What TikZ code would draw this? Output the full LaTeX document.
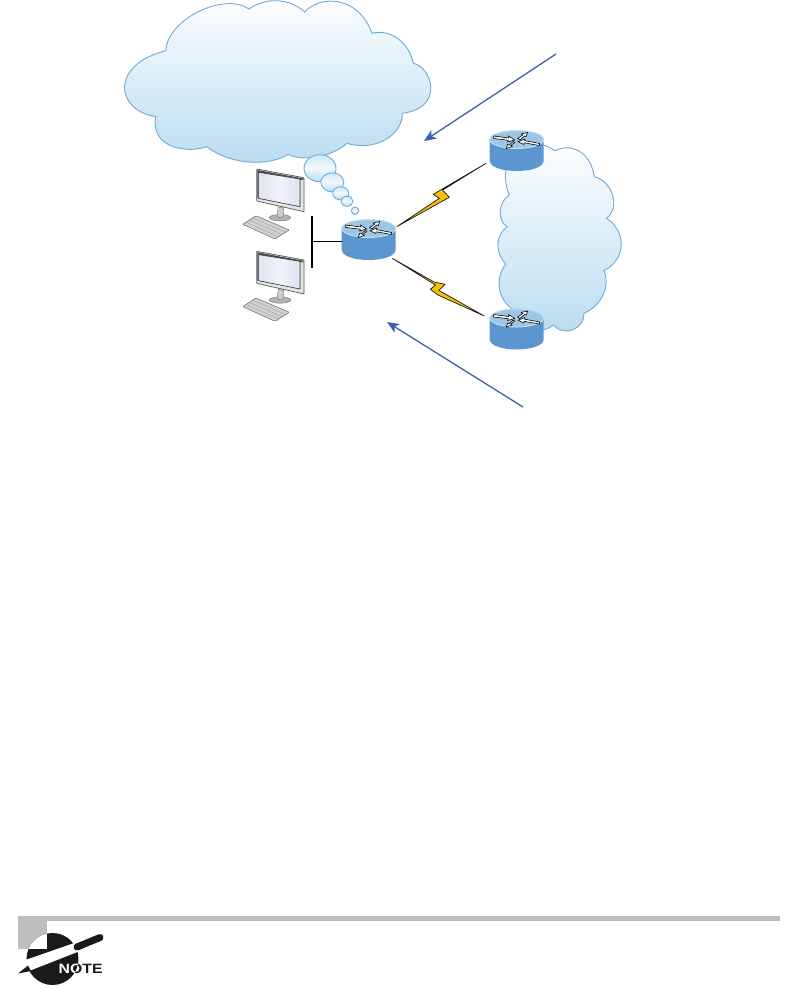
\documentclass[tikz,border=0pt]{standalone}
\usepackage{fontspec}
\setmainfont{Liberation Sans}
\usetikzlibrary{arrows.meta,calc}
\definecolor{cloudedge}{HTML}{6FA9DA}
\definecolor{cloudlow}{HTML}{B9DCF0}
\definecolor{routertop}{HTML}{9DC5E6}
\definecolor{routerrim}{HTML}{C4DDF0}
\definecolor{routerbody}{HTML}{5B96D1}
\definecolor{callout}{HTML}{3B60B2}
\definecolor{bolt}{HTML}{F7C000}
\definecolor{notegray}{HTML}{BDBDBD}
\definecolor{screenlow}{HTML}{DDE2F1}
\definecolor{screenhigh}{HTML}{F1F3F9}
\tikzset{
  cloudshape/.style={draw=cloudedge,line width=0.9pt,top color=white,bottom color=cloudlow},
  bubble/.style={draw=cloudedge,line width=0.9pt,top color=white!35!cloudlow,bottom color=cloudlow,middle color=white!80!cloudlow},
  calloutarrow/.style={draw=callout,line width=1.3pt,-{Stealth[length=12pt,width=10pt,inset=3pt]}},
  boltshape/.style={fill=bolt,draw=black!90,line width=0.7pt,line join=miter,miter limit=3},
  lanline/.style={draw=black,line width=1pt},
  lanbar/.style={draw=black,line width=1.6pt},
  rarrow/.style={fill=white,draw=black,line width=0.6pt},
  router/.pic={
    \fill[routerbody] (-27,0) -- (-27,21) .. controls (-27,35) and (27,35) .. (27,21) -- (27,0) -- cycle;
    \fill[routertop,draw=routerrim,line width=0.9pt] (0,0) ellipse [x radius=27,y radius=9];
    \path[rarrow] (-23,-3.5) -- (-8,-1.5) -- (-8,-3.5) -- (-2,0.5) -- (-9,2.5) -- (-8.5,0.7) -- (-23,-1) -- cycle;
    \path[rarrow] (23,4) -- (8,1.2) -- (8,-0.5) -- (1.5,2.2) -- (7,5) -- (7.5,3.3) -- (22.5,6) -- cycle;
    \path[rarrow] (1,-1) -- (6,-4.5) -- (4.5,-5.5) -- (11,-7) -- (9.5,-3) -- (8,-3.5) -- (3,0.5) -- cycle;
    \path[rarrow] (-2,3) -- (-6,6) -- (-4.5,7) -- (-10.5,9) -- (-9,5) -- (-7.5,5.5) -- (-3.5,2) -- cycle;
  },
  monitor/.pic={
    % keyboard
    \fill[black!18,draw=black!60,line width=0.5pt,rounded corners=0.8pt] (-14,55.3) -- (-0.7,46.7) -- (32.6,61) -- (18.3,70) -- cycle;
    \foreach \t in {0.25,0.5,0.75}{
      \draw[black!40,line width=0.35pt] ($(-14,55.3)!\t!(-0.7,46.7)$) -- ($(18.3,70)!\t!(32.6,61)$);
    }
    % stand
    \fill[black!30,draw=black!55,line width=0.4pt] (23.3,48.7) ellipse [x radius=10.7,y radius=3.2];
    \fill[black!20,draw=black!55,line width=0.4pt] (21.5,38) -- (27,39) -- (26.5,47) .. controls (26,49) and (21,49) .. (20.5,47) -- cycle;
    % bezel
    \fill[black!10,draw=black!65,line width=0.7pt,rounded corners=0.6pt] (0,0) -- (47.3,8.7) -- (47.3,42.7) -- (0,32) -- cycle;
    \fill[black!70] (0.6,1) -- (46.7,9.5) -- (46.7,11) -- (44,10.8) -- (1.6,3.3) -- (1.6,29.3) -- (0.6,29) -- cycle;
    \fill[left color=screenlow,right color=screenlow,middle color=screenhigh,draw=black!75,line width=0.6pt]
      (1.6,3.3) -- (43.3,10) -- (43.3,37.7) -- (1.6,29.3) -- cycle;
  }
}
\begin{document}
\begin{tikzpicture}[x=1pt,y=-1pt]
\useasboundingbox (0,0) rectangle (799,988);

% main thought cloud
\path[cloudshape]
  (165.7,50.7) .. controls (168,18) and (225,-8) .. (249,9)
  .. controls (265,-3) and (290,-2) .. (304.7,12)
  .. controls (320,-5) and (358,-5) .. (372,33.3)
  .. controls (392,28) and (410,45) .. (413.3,63.3)
  .. controls (432,67) and (445,108) .. (402.3,113.3)
  .. controls (403,135) and (375,152) .. (346.7,143.3)
  .. controls (335,155) and (305,163) .. (288.3,154.3)
  .. controls (270,166) and (232,166) .. (206.7,146.7)
  .. controls (190,153) and (150,150) .. (155.7,116.7)
  .. controls (115,110) and (110,65) .. (165.7,50.7) -- cycle;

% bubbles
\node[coordinate] (b1) at (320,168.3) {};
\node[coordinate] (b2) at (332.3,182.3) {};
\node[coordinate] (b3) at (340.7,193.3) {};
\node[coordinate] (b4) at (347,201.3) {};
\node[coordinate] (b5) at (355,210.7) {};
\path[bubble] (b1) ellipse [x radius=16,y radius=13.5];
\path[bubble] (b2) ellipse [x radius=11.5,y radius=9.5];
\path[bubble] (b3) ellipse [x radius=8,y radius=6.5];
\path[bubble] (b4) ellipse [x radius=6,y radius=5];
\path[bubble] (b5) ellipse [x radius=3.7,y radius=3.7];

% right cloud
\path[cloudshape]
  (500,150) .. controls (515,140) and (540,140) .. (555,150.7)
  .. controls (570,143) and (590,150) .. (594.3,176.7)
  .. controls (610,180) and (622,205) .. (606.7,218.3)
  .. controls (625,230) and (628,258) .. (604,270.7)
  .. controls (610,285) and (603,305) .. (584,313.3)
  .. controls (585,328) and (565,338) .. (553.3,325)
  .. controls (545,332) and (530,335) .. (514,310)
  .. controls (497,300) and (495,278) .. (505.7,264)
  .. controls (495,253) and (495,235) .. (507.3,226.7)
  .. controls (498,222) and (497,203) .. (509.3,195)
  .. controls (505,185) and (503,170) .. (510,160) -- cycle;

% routers
\coordinate (rc) at (368.7,228.5);
\coordinate (rt) at (516.7,139.5);
\coordinate (rb) at (516.7,318);
\pic at (rc) {router};
\pic at (rt) {router};
\pic at (rb) {router};

% serial links
\coordinate (l1a) at (396.7,226.7);
\coordinate (l1b) at (486,163.3);
\coordinate (l2a) at (392.3,258.3);
\coordinate (l2b) at (484.3,316);
\path[boltshape] (l1a) -- (439.3,198.3) -- (433.3,194.3) -- (l1b) -- (442.7,190) -- (449.3,197.3) -- cycle;
\path[boltshape] (l2a) -- (434,282) -- (445,284.3) -- (439,290.5) -- (l2b) -- (438,295) -- (430.3,289.3) -- (435.5,285) -- cycle;

% monitors
\coordinate (m1) at (256.7,169);
\coordinate (m2) at (256.7,251.3);
\pic at (m1) {monitor};
\pic at (m2) {monitor};

% LAN
\coordinate (lan1) at (312,216);
\coordinate (lan2) at (312,267.7);
\coordinate (lanj) at (312,241);
\coordinate (rcw) at (341.7,241);
\draw[lanbar] (lan1) -- (lan2);
\draw[lanline] (lanj) -- (rcw);

% callouts
\coordinate (c1s) at (556,54);
\coordinate (c1e) at (424,141);
\coordinate (c2s) at (523,407);
\coordinate (c2e) at (387,322);
\draw[calloutarrow] (c1s) -- (c1e);
\draw[calloutarrow] (c2s) -- (c2e);

% note icon
\fill[notegray] (18,916) rectangle (780,920.5);
\fill[notegray] (17.7,920) rectangle (47.3,948.5);
\coordinate (nc) at (52.5,959);
\fill[black!90] (nc) circle [radius=26];
\begin{scope}
  \clip (nc) circle [radius=26];
  \fill[white] (17,925) rectangle (47.3,948.5);
\end{scope}
\fill[white] (24,960.5) -- (80,941) -- (80,951) -- (29,971) -- cycle;
\fill[black!90] (18,973.5) -- (28,965.5) -- (31,971) -- cycle;
\draw[black!90,line width=7pt,line cap=round] (77,947) -- (100,937.5);
\node[anchor=base west,inner sep=0pt,font=\bfseries\fontsize{13.5}{14}\selectfont,xscale=1.17,text=black!90] (nt) at (58.5,973.3) {NOTE};
\begin{scope}
  \clip (nc) circle [radius=26];
  \node[anchor=base west,inner sep=0pt,font=\bfseries\fontsize{13.5}{14}\selectfont,xscale=1.17,text=white] at (58.5,973.3) {NOTE};
\end{scope}
\end{tikzpicture}
\end{document}
